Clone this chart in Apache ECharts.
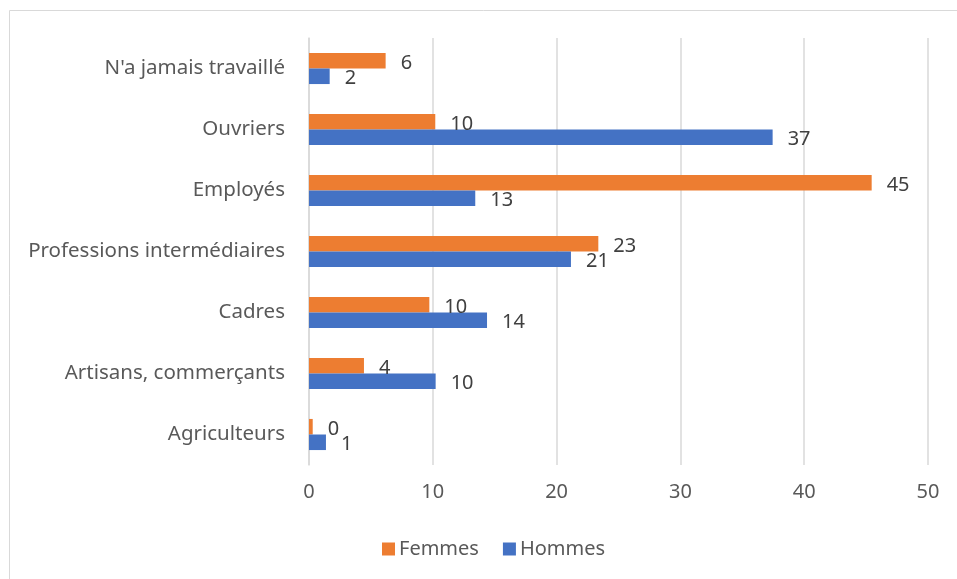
<!DOCTYPE html>
<html>
<head>
<meta charset="utf-8">
<script src="https://cdn.jsdelivr.net/npm/echarts@6/dist/echarts.min.js"></script>
<style>
html,body{margin:0;padding:0;background:#fff;}
#chart{width:957px;height:579px;}
</style>
</head>
<body>
<div id="chart"></div>
<script>
const categories = ['Agriculteurs', 'Artisans, commerçants', 'Cadres', 'Professions intermédiaires', 'Employés', 'Ouvriers', "N'a jamais travaillé"];
const femmes = [0.3, 4.44, 9.72, 23.37, 45.45, 10.2, 6.19];
const hommes = [1.37, 10.23, 14.38, 21.16, 13.43, 37.45, 1.67];
const xTicks = [0, 10, 20, 30, 40, 50];

const FONT = 'Noto Sans';
const FS = 20;
const chart = echarts.init(document.getElementById('chart'));
const labelCfg = {
  show: true,
  position: 'right',
  distance: 15,
  offset: [0, 2.5],
  color: '#404040',
  fontFamily: FONT,
  fontSize: FS,
  formatter: p => Math.round(p.value)
};
chart.setOption({
  animation: false,
  textStyle: {fontFamily: FONT},
  graphic: [{
    type: 'rect',
    shape: {x: 9.5, y: 10.5, width: 1000, height: 700},
    style: {fill: 'none', stroke: '#d9d9d9', lineWidth: 1},
    silent: true
  }],
  grid: {left: 309, right: 29, top: 38, bottom: 114, containLabel: false},
  legend: {
    data: ['Femmes', 'Hommes'],
    left: 377, top: 534,
    itemWidth: 13, itemHeight: 13, itemGap: 24,
    icon: 'rect',
    textStyle: {color: '#595959', fontSize: FS, fontFamily: FONT, padding: [0, 0, 0, -1]}
  },
  xAxis: {
    type: 'value', min: xTicks[0], max: xTicks[xTicks.length - 1], interval: 10,
    axisLine: {show: false}, axisTick: {show: false},
    splitLine: {lineStyle: {color: '#d9d9d9', width: 1.5}},
    axisLabel: {color: '#595959', fontSize: FS, fontFamily: FONT, margin: 17}
  },
  yAxis: {
    type: 'category', data: categories,
    axisLine: {show: true, lineStyle: {color: '#d9d9d9', width: 1.5}},
    axisTick: {show: false},
    axisLabel: {color: '#595959', fontSize: 20.5, fontFamily: FONT, margin: 24}
  },
  series: [
    {name: 'Femmes', type: 'bar', data: femmes, itemStyle: {color: '#ED7D31'},
     barGap: '0%', barCategoryGap: '49%', label: labelCfg},
    {name: 'Hommes', type: 'bar', data: hommes, itemStyle: {color: '#4472C4'},
     barGap: '0%', barCategoryGap: '49%', label: labelCfg}
  ]
});
</script>
</body>
</html>
